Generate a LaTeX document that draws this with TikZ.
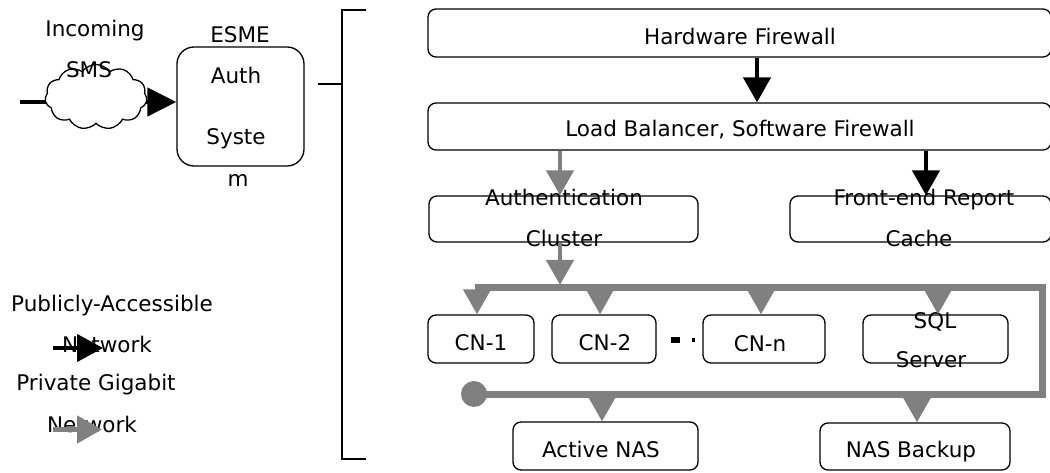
\documentclass[tikz,border=0pt]{standalone}
\usepackage{fontspec}
\setmainfont{DejaVu Sans}
\usetikzlibrary{arrows.meta,shapes.symbols}
\definecolor{netgray}{HTML}{808080}

\begin{document}
\begin{tikzpicture}[x=1pt,y=-1pt,
  box/.style={draw, line width=1.3pt, rounded corners=8pt, inner sep=0pt},
  lbl/.style={anchor=base, inner sep=0pt, font=\fontsize{21.5}{26}\selectfont},
  pubarrow/.style={line width=4.5pt, -{Triangle[length=25pt,width=27pt]}},
  privarrow/.style={pubarrow, draw=netgray, fill=netgray},
  bus/.style={line width=7pt, draw=netgray, line join=miter},
]
\useasboundingbox (0,0) rectangle (1050,473);

% ---- columns used by the vertical connectors
\coordinate (colA) at (560,0);
\coordinate (colF) at (926,0);
\coordinate (colH) at (757,0);
\coordinate (col1) at (477,0);
\coordinate (col2) at (600,0);
\coordinate (coln) at (761,0);
\coordinate (colS) at (938,0);
\coordinate (colNA) at (602,0);
\coordinate (colNB) at (917,0);

% ---- server-side boxes (the right-hand ones run to the page edge)
\node[box, minimum width=623pt, minimum height=48pt] (hw) at (739.5,33) {};
\node[box, minimum width=623pt, minimum height=47pt] (lb) at (739.5,126.5) {};
\node[box, minimum width=269pt, minimum height=46pt] (auth) at (563.5,219) {};
\node[box, minimum width=261pt, minimum height=46pt] (fe) at (920.5,219) {};
\node[box, minimum width=106pt, minimum height=48pt] (cn1) at (481,339) {};
\node[box, minimum width=104pt, minimum height=48pt] (cn2) at (604,339) {};
\node[box, minimum width=122pt, minimum height=48pt] (cnn) at (764,339) {};
\node[box, minimum width=145pt, minimum height=48pt] (sql) at (935.5,339) {};
\node[box, minimum width=185pt, minimum height=48pt] (anas) at (605.5,446) {};
\node[box, minimum width=190pt, minimum height=47pt] (bnas) at (915,446.5) {};

% ---- ESME authentication box
\node[box, rounded corners=17pt, minimum width=127pt, minimum height=119pt] (esme) at (240.5,106.5) {};

% ---- labels
\node[lbl] (tIncoming) at (95,37) {Incoming};
\node[lbl] (tEsme) at (240,43) {ESME};
\node[lbl] (tAuth) at (236,84) {Auth};
\node[lbl] (tSyste) at (236,145) {Syste};
\node[lbl] (tM) at (238,187) {m};
\node[lbl] (tHw) at (740,45) {Hardware Firewall};
\node[lbl] (tLb) at (740,137) {Load Balancer, Software Firewall};
\node[lbl] (tAuthA) at (564,206) {Authentication};
\node[lbl] (tAuthB) at (564,247) {Cluster};
\node[lbl] (tFeA) at (924,206) {Front-end Report};
\node[lbl] (tFeB) at (919,247) {Cache};
\node[lbl] (tCn1) at (481,350) {CN-1};
\node[lbl] (tCn2) at (605,350) {CN-2};
\node[lbl] (tCnn) at (760,351) {CN-n};
\node[lbl] (tSqlA) at (935,328) {SQL};
\node[lbl] (tSqlB) at (931,367) {Server};
\node[lbl] (tAnas) at (601,457) {Active NAS};
\node[lbl] (tBnas) at (911,457) {NAS Backup};
\node[lbl] (tPubA) at (112,311) {Publicly-Accessible};
\node[lbl] (tPubB) at (107,352) {Network};
\node[lbl] (tPrvA) at (96,390) {Private Gigabit};
\node[lbl] (tPrvB) at (92,432) {Network};

% ---- incoming SMS through the cloud into the ESME box
\coordinate (smsIn) at (20,102);
\draw[pubarrow, -{Triangle[length=29pt,width=28pt]}] (smsIn) -- (smsIn -| esme.west);
\node[cloud, cloud puffs=11, cloud puff arc=110, aspect=1.6, draw, fill=white,
      line width=1.3pt, minimum width=102pt, minimum height=65pt, inner sep=0pt]
      (cloud) at (96,97) {};
\node[lbl] (tSms) at (89,78) {SMS};

% ---- bracket grouping the server side
\coordinate (tapA) at (318,84);
\coordinate (tapB) at (342,84);
\draw[line width=2pt] (tapA) -- (tapB);
\draw[line width=1.6pt] (366,10) -- (342,10) -- (342,459) -- (366,459);

% ---- public network links
\draw[pubarrow] (hw.south -| colH) -- (lb.north -| colH);
\draw[pubarrow] (lb.south -| colF) -- (fe.north -| colF);

% ---- private gigabit network
\coordinate (busL) at (475,288);
\coordinate (busR) at (1042,288);
\coordinate (busBR) at (1042,394);
\coordinate (busBL) at (474,394);
\draw[bus] (busL) -- (busR) -- (busBR) -- (busBL);
\fill[netgray] (busBL) circle (13pt);

\draw[privarrow] (lb.south -| colA) -- (auth.north -| colA);
\draw[privarrow] (auth.south -| colA) -- ([yshift=3pt]busL -| colA);
\draw[privarrow] (busL -| col1) -- (cn1.north -| col1);
\draw[privarrow] (busL -| col2) -- (cn2.north -| col2);
\draw[privarrow] (busL -| coln) -- (cnn.north -| coln);
\draw[privarrow] (busL -| colS) -- (sql.north -| colS);
\draw[privarrow] (busBL -| colNA) -- (anas.north -| colNA);
\draw[privarrow] (busBL -| colNB) -- (bnas.north -| colNB);

% ---- ellipsis between the compute nodes
\fill (671,337) rectangle (680,343);
\fill (692,338) rectangle (695,342);

% ---- legend arrows
\coordinate (lgPubS) at (53,348);
\coordinate (lgPubE) at (103,348);
\coordinate (lgPrvS) at (53,429.5);
\coordinate (lgPrvE) at (102,429.5);
\draw[pubarrow, -{Triangle[length=26pt,width=27pt]}] (lgPubS) -- (lgPubE);
\draw[privarrow] (lgPrvS) -- (lgPrvE);
\end{tikzpicture}
\end{document}
